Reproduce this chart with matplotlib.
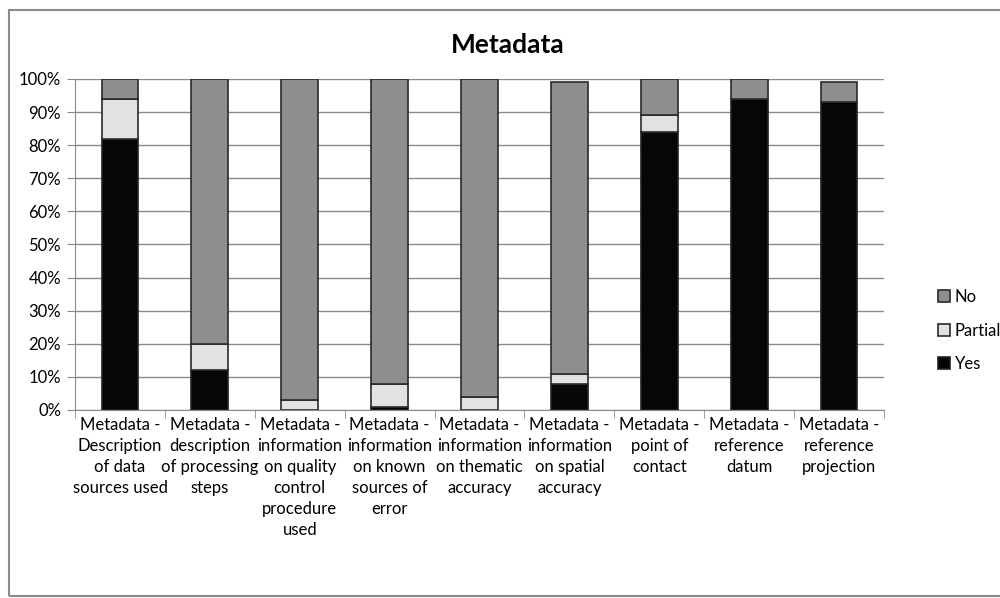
import numpy as np
import matplotlib.pyplot as plt
from matplotlib.patches import Rectangle

plt.rcParams['font.family'] = ['Lato', 'DejaVu Sans']

categories = ["Metadata -\nDescription\nof data\nsources used",
              "Metadata -\ndescription\nof processing\nsteps",
              "Metadata -\ninformation\non quality\ncontrol\nprocedure\nused",
              "Metadata -\ninformation\non known\nsources of\nerror",
              "Metadata -\ninformation\non thematic\naccuracy",
              "Metadata -\ninformation\non spatial\naccuracy",
              "Metadata -\npoint of\ncontact",
              "Metadata -\nreference\ndatum",
              "Metadata -\nreference\nprojection"]
yes = [82, 12, 0, 1, 0, 8, 84, 94, 93]
partial = [12, 8, 3, 7, 4, 3, 5, 0, 0]
no = [6, 80, 97, 92, 96, 88, 11, 6, 6]

fig = plt.figure(figsize=(10, 5.98), dpi=100)
ax = fig.add_axes([0.075, 0.3144, 0.809, 0.5536])

x = np.arange(len(categories))
w = 0.41
yes = np.array(yes)
partial = np.array(partial)
no = np.array(no)
ax.bar(x, yes, w, color='#060606', edgecolor='#222222', linewidth=1.2, label='Yes', zorder=3)
ax.bar(x, partial, w, bottom=yes, color='#e2e2e2', edgecolor='#2a2a2a', linewidth=1.2, label='Partial', zorder=3)
ax.bar(x, no, w, bottom=yes + partial, color='#8e8e8e', edgecolor='#2a2a2a', linewidth=1.2, label='No', zorder=3)

ax.set_ylim(0, 100)
ax.set_xlim(-0.5, len(categories) - 0.5)
ax.set_yticks(np.arange(0, 101, 10))
ax.set_yticklabels([f"{v}%" for v in range(0, 101, 10)], fontsize=12)
ax.yaxis.grid(True, color='#8a8a8a', linewidth=1)
ax.set_axisbelow(True)
ax.set_xticks(x)
ax.set_xticklabels(categories, fontsize=12, linespacing=1.38, va='top')
ax.tick_params(axis='x', length=0, pad=5)
ax.set_xticks(np.arange(-0.5, len(categories), 1), minor=True)
ax.tick_params(axis='x', which='minor', length=6, color='#8a8a8a')
ax.tick_params(axis='y', length=6, color='#8a8a8a', pad=4)
for s in ['top', 'right']:
    ax.spines[s].set_visible(False)
ax.spines['left'].set_color('#8a8a8a')
ax.spines['bottom'].set_color('#8a8a8a')

fig.text(0.508, 0.925, "Metadata", ha='center', va='center', fontsize=19, fontweight='bold')

h, l = ax.get_legend_handles_labels()
ax.legend(h[::-1], l[::-1], loc='center left', bbox_to_anchor=(1.048, 0.24), frameon=False,
          fontsize=12, handlelength=0.75, handleheight=0.75, labelspacing=1.05, handletextpad=0.25)

fig.patches.append(Rectangle((0.009, 0.003), 1.2, 0.98, transform=fig.transFigure,
                             fill=False, edgecolor='#8a8a8a', linewidth=1.5))

fig.savefig("out.png", dpi=100)
